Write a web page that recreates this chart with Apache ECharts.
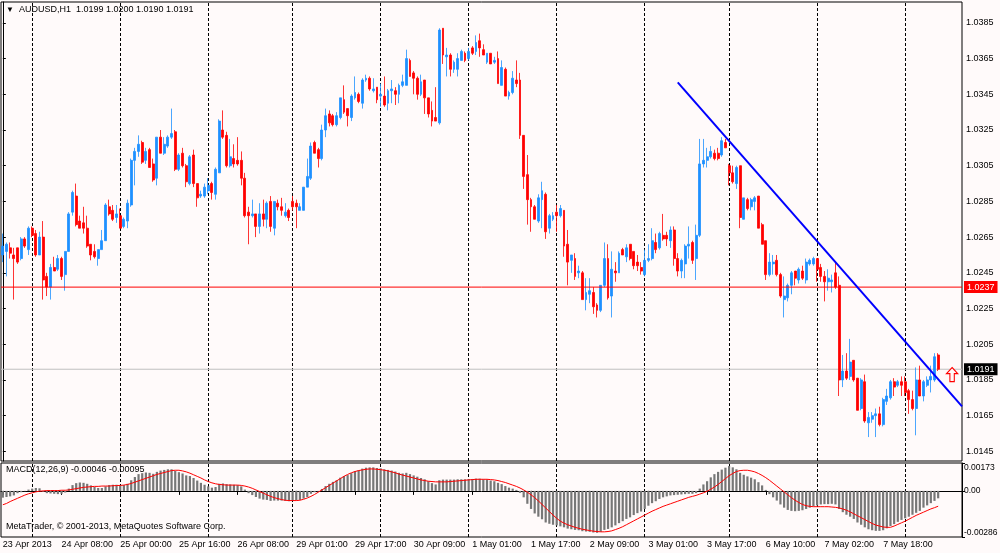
<!DOCTYPE html>
<html>
<head>
<meta charset="utf-8">
<title>AUDUSD,H1</title>
<script src="https://cdn.jsdelivr.net/npm/echarts@6/dist/echarts.min.js"></script>
<style>
  html, body { margin: 0; padding: 0; background: #fffafa; }
  #chart { width: 1000px; height: 553px; }
</style>
</head>
<body>
<div id="chart"></div>
<script>
// trading sessions of the H1 bars: day, first hour, last hour
var YEAR = 2013;
var sessions = [
  ['23 Apr', 16, 23], ['24 Apr', 0, 23], ['25 Apr', 0, 23], ['26 Apr', 0, 22],
  ['29 Apr', 0, 23], ['30 Apr', 0, 23], ['1 May', 0, 23], ['2 May', 0, 23],
  ['3 May', 0, 22], ['6 May', 0, 23], ['7 May', 0, 23], ['8 May', 0, 9]
];

// candles: [open, high, low, close]
var candles = [
  [1.0255,1.0267,1.0251,1.0260],[1.0257,1.0262,1.0243,1.0261],[1.0259,1.0262,1.0253,1.0256],[1.0255,1.0259,1.0230,1.0253],
  [1.0259,1.0259,1.0250,1.0251],[1.0253,1.0265,1.0252,1.0264],[1.0264,1.0265,1.0259,1.0260],[1.0258,1.0271,1.0255,1.0270],
  [1.0270,1.0271,1.0265,1.0266],[1.0267,1.0269,1.0254,1.0255],[1.0255,1.0268,1.0255,1.0265],[1.0265,1.0274,1.0230,1.0241],
  [1.0243,1.0245,1.0232,1.0237],[1.0237,1.0250,1.0230,1.0248],[1.0248,1.0254,1.0246,1.0246],[1.0247,1.0255,1.0246,1.0253],
  [1.0253,1.0254,1.0241,1.0243],[1.0244,1.0257,1.0235,1.0257],[1.0257,1.0279,1.0257,1.0278],[1.0279,1.0291,1.0277,1.0290],
  [1.0288,1.0295,1.0271,1.0272],[1.0274,1.0277,1.0270,1.0270],[1.0273,1.0282,1.0267,1.0270],[1.0270,1.0277,1.0259,1.0260],
  [1.0261,1.0261,1.0252,1.0255],[1.0257,1.0261,1.0253,1.0254],[1.0253,1.0258,1.0249,1.0258],[1.0258,1.0269,1.0258,1.0263],
  [1.0263,1.0284,1.0263,1.0283],[1.0282,1.0286,1.0277,1.0278],[1.0280,1.0283,1.0274,1.0275],[1.0276,1.0283,1.0273,1.0278],
  [1.0277,1.0281,1.0270,1.0270],[1.0271,1.0276,1.0270,1.0275],[1.0274,1.0286,1.0270,1.0284],[1.0283,1.0309,1.0282,1.0308],
  [1.0308,1.0315,1.0294,1.0313],[1.0313,1.0322,1.0310,1.0317],[1.0318,1.0319,1.0306,1.0307],[1.0308,1.0315,1.0306,1.0313],
  [1.0314,1.0315,1.0304,1.0304],[1.0306,1.0309,1.0296,1.0297],[1.0298,1.0321,1.0294,1.0321],[1.0321,1.0325,1.0312,1.0312],
  [1.0312,1.0321,1.0311,1.0317],[1.0316,1.0322,1.0315,1.0321],[1.0321,1.0337,1.0320,1.0323],[1.0324,1.0325,1.0302,1.0303],
  [1.0303,1.0312,1.0302,1.0311],[1.0312,1.0315,1.0304,1.0305],[1.0305,1.0306,1.0293,1.0296],[1.0295,1.0311,1.0294,1.0310],
  [1.0311,1.0314,1.0293,1.0295],[1.0295,1.0295,1.0282,1.0287],[1.0288,1.0291,1.0287,1.0289],[1.0288,1.0295,1.0287,1.0293],
  [1.0291,1.0298,1.0289,1.0294],[1.0295,1.0296,1.0286,1.0290],[1.0289,1.0304,1.0286,1.0303],[1.0301,1.0331,1.0301,1.0330],
  [1.0325,1.0336,1.0320,1.0321],[1.0322,1.0324,1.0304,1.0305],[1.0305,1.0320,1.0304,1.0310],[1.0309,1.0317,1.0304,1.0306],
  [1.0308,1.0321,1.0305,1.0306],[1.0308,1.0313,1.0294,1.0298],[1.0298,1.0301,1.0276,1.0277],[1.0279,1.0282,1.0261,1.0277],
  [1.0277,1.0286,1.0276,1.0278],[1.0278,1.0278,1.0265,1.0271],[1.0271,1.0284,1.0267,1.0278],[1.0278,1.0286,1.0271,1.0275],
  [1.0275,1.0285,1.0270,1.0284],[1.0285,1.0288,1.0268,1.0271],[1.0270,1.0285,1.0266,1.0285],[1.0284,1.0286,1.0280,1.0282],
  [1.0282,1.0287,1.0277,1.0280],[1.0277,1.0284,1.0276,1.0279],[1.0280,1.0281,1.0274,1.0276],[1.0285,1.0288,1.0280,1.0282],
  [1.0284,1.0286,1.0270,1.0282],[1.0280,1.0284,1.0280,1.0282],[1.0280,1.0293,1.0280,1.0293],[1.0293,1.0309,1.0293,1.0299],
  [1.0298,1.0318,1.0297,1.0316],[1.0318,1.0319,1.0312,1.0312],[1.0314,1.0315,1.0304,1.0309],[1.0309,1.0328,1.0308,1.0325],
  [1.0325,1.0337,1.0321,1.0333],[1.0334,1.0336,1.0327,1.0329],[1.0333,1.0334,1.0327,1.0328],[1.0328,1.0335,1.0327,1.0333],
  [1.0332,1.0343,1.0331,1.0343],[1.0342,1.0350,1.0334,1.0335],[1.0337,1.0337,1.0327,1.0333],[1.0332,1.0345,1.0330,1.0344],
  [1.0343,1.0355,1.0342,1.0346],[1.0345,1.0346,1.0340,1.0341],[1.0340,1.0354,1.0337,1.0353],[1.0353,1.0356,1.0352,1.0354],
  [1.0354,1.0355,1.0347,1.0348],[1.0347,1.0354,1.0346,1.0348],[1.0349,1.0349,1.0340,1.0342],[1.0344,1.0351,1.0338,1.0345],
  [1.0344,1.0355,1.0338,1.0339],[1.0340,1.0348,1.0336,1.0347],[1.0347,1.0353,1.0340,1.0348],[1.0347,1.0349,1.0339,1.0345],
  [1.0345,1.0351,1.0340,1.0350],[1.0350,1.0356,1.0349,1.0352],[1.0350,1.0370,1.0350,1.0365],[1.0364,1.0365,1.0355,1.0355],
  [1.0357,1.0358,1.0345,1.0354],[1.0354,1.0355,1.0342,1.0345],[1.0345,1.0356,1.0344,1.0352],[1.0353,1.0353,1.0334,1.0343],
  [1.0343,1.0343,1.0332,1.0334],[1.0336,1.0341,1.0327,1.0330],[1.0332,1.0349,1.0330,1.0330],[1.0329,1.0382,1.0328,1.0381],
  [1.0382,1.0382,1.0362,1.0367],[1.0366,1.0371,1.0355,1.0367],[1.0367,1.0368,1.0355,1.0359],[1.0359,1.0364,1.0357,1.0363],
  [1.0359,1.0368,1.0355,1.0365],[1.0364,1.0370,1.0364,1.0369],[1.0368,1.0369,1.0363,1.0364],[1.0365,1.0371,1.0364,1.0369],
  [1.0371,1.0372,1.0367,1.0368],[1.0369,1.0378,1.0367,1.0374],[1.0375,1.0379,1.0366,1.0371],[1.0370,1.0373,1.0367,1.0367],
  [1.0363,1.0368,1.0362,1.0368],[1.0368,1.0368,1.0362,1.0362],[1.0363,1.0366,1.0362,1.0364],[1.0365,1.0369,1.0351,1.0351],
  [1.0350,1.0364,1.0350,1.0360],[1.0359,1.0360,1.0344,1.0344],[1.0344,1.0347,1.0342,1.0346],[1.0346,1.0358,1.0345,1.0354],
  [1.0353,1.0364,1.0349,1.0351],[1.0353,1.0357,1.0320,1.0322],[1.0322,1.0322,1.0292,1.0299],[1.0300,1.0311,1.0272,1.0286],
  [1.0286,1.0287,1.0268,1.0282],[1.0282,1.0283,1.0275,1.0275],[1.0274,1.0289,1.0273,1.0287],[1.0286,1.0296,1.0270,1.0291],
  [1.0289,1.0290,1.0264,1.0268],[1.0270,1.0278,1.0267,1.0277],[1.0275,1.0279,1.0274,1.0277],[1.0279,1.0283,1.0268,1.0277],
  [1.0277,1.0283,1.0276,1.0281],[1.0280,1.0280,1.0254,1.0260],[1.0261,1.0269,1.0238,1.0251],[1.0252,1.0255,1.0245,1.0255],
  [1.0253,1.0256,1.0241,1.0243],[1.0245,1.0249,1.0242,1.0246],[1.0245,1.0246,1.0230,1.0230],[1.0230,1.0242,1.0224,1.0234],
  [1.0233,1.0242,1.0228,1.0235],[1.0234,1.0237,1.0222,1.0226],[1.0227,1.0228,1.0220,1.0224],[1.0224,1.0238,1.0223,1.0238],
  [1.0238,1.0262,1.0237,1.0253],[1.0253,1.0261,1.0230,1.0231],[1.0232,1.0257,1.0220,1.0247],[1.0246,1.0251,1.0240,1.0245],
  [1.0245,1.0257,1.0245,1.0256],[1.0258,1.0259,1.0255,1.0255],[1.0254,1.0261,1.0251,1.0259],[1.0261,1.0261,1.0252,1.0253],
  [1.0257,1.0257,1.0247,1.0249],[1.0251,1.0255,1.0246,1.0249],[1.0248,1.0251,1.0244,1.0246],[1.0244,1.0258,1.0243,1.0252],
  [1.0252,1.0261,1.0251,1.0253],[1.0253,1.0270,1.0252,1.0263],[1.0262,1.0267,1.0256,1.0258],[1.0259,1.0268,1.0258,1.0267],
  [1.0266,1.0278,1.0263,1.0264],[1.0266,1.0268,1.0260,1.0264],[1.0263,1.0271,1.0259,1.0269],[1.0269,1.0271,1.0249,1.0253],
  [1.0253,1.0256,1.0243,1.0246],[1.0246,1.0253,1.0242,1.0252],[1.0250,1.0261,1.0242,1.0260],[1.0260,1.0271,1.0253,1.0261],
  [1.0262,1.0263,1.0250,1.0252],[1.0253,1.0272,1.0241,1.0266],[1.0266,1.0320,1.0265,1.0306],[1.0306,1.0320,1.0304,1.0308],
  [1.0308,1.0315,1.0304,1.0310],[1.0310,1.0316,1.0309,1.0313],[1.0312,1.0314,1.0308,1.0309],[1.0312,1.0315,1.0308,1.0309],
  [1.0311,1.0321,1.0310,1.0319],[1.0318,1.0320,1.0315,1.0315],[1.0305,1.0306,1.0294,1.0301],[1.0301,1.0305,1.0295,1.0296],
  [1.0295,1.0305,1.0292,1.0304],[1.0305,1.0305,1.0270,1.0276],[1.0275,1.0287,1.0275,1.0287],[1.0286,1.0287,1.0280,1.0281],
  [1.0282,1.0287,1.0280,1.0286],[1.0285,1.0288,1.0280,1.0287],[1.0288,1.0288,1.0270,1.0270],[1.0272,1.0273,1.0261,1.0261],
  [1.0263,1.0263,1.0241,1.0244],[1.0244,1.0256,1.0243,1.0251],[1.0250,1.0255,1.0244,1.0251],[1.0252,1.0255,1.0243,1.0244],
  [1.0244,1.0245,1.0231,1.0232],[1.0230,1.0243,1.0220,1.0232],[1.0231,1.0239,1.0229,1.0238],[1.0238,1.0246,1.0233,1.0245],
  [1.0246,1.0246,1.0238,1.0242],[1.0241,1.0248,1.0239,1.0247],[1.0246,1.0249,1.0241,1.0242],[1.0241,1.0253,1.0239,1.0251],
  [1.0250,1.0253,1.0249,1.0252],[1.0250,1.0254,1.0249,1.0253],[1.0253,1.0253,1.0240,1.0247],[1.0248,1.0250,1.0240,1.0243],
  [1.0243,1.0246,1.0229,1.0240],[1.0240,1.0247,1.0235,1.0242],[1.0240,1.0244,1.0234,1.0241],[1.0245,1.0251,1.0236,1.0237],
  [1.0238,1.0243,1.0176,1.0185],[1.0185,1.0199,1.0181,1.0190],[1.0190,1.0200,1.0185,1.0186],[1.0187,1.0208,1.0185,1.0195],
  [1.0196,1.0196,1.0184,1.0185],[1.0186,1.0186,1.0168,1.0168],[1.0169,1.0186,1.0168,1.0185],[1.0184,1.0188,1.0161,1.0162],
  [1.0161,1.0167,1.0153,1.0164],[1.0163,1.0167,1.0161,1.0165],[1.0165,1.0169,1.0153,1.0166],[1.0166,1.0170,1.0159,1.0160],
  [1.0160,1.0175,1.0159,1.0174],[1.0173,1.0180,1.0171,1.0176],[1.0175,1.0185,1.0174,1.0184],[1.0184,1.0186,1.0176,1.0181],
  [1.0182,1.0185,1.0181,1.0184],[1.0184,1.0187,1.0176,1.0182],[1.0184,1.0187,1.0176,1.0178],[1.0179,1.0180,1.0166,1.0174],
  [1.0174,1.0179,1.0168,1.0169],[1.0169,1.0192,1.0154,1.0185],[1.0185,1.0193,1.0176,1.0176],[1.0176,1.0185,1.0173,1.0184],
  [1.0182,1.0187,1.0181,1.0185],[1.0185,1.0193,1.0178,1.0187],[1.0185,1.0200,1.0184,1.0198],[1.0199,1.0200,1.0190,1.0191]
];

// MACD(12,26,9) main (histogram) and signal, in points of 0.00001
var POINT = 0.00001;
var macdMain = [
  -42,-38,-34,-28,-14,-8,-2,8,14,18, 16,-6,-14,-16,-18,-20,-18,-10,14,36,
  48,52,50,44,34,24,18,18,28,36, 38,38,36,36,44,66,86,104,110,114,
  112,106,118,126,130,134,134,124,116,108, 96,92,80,64,50,38,28,20,24,44,
  46,42,40,38,36,28,8,-14,-26,-38, -48,-54,-56,-62,-60,-60,-60,-62,-64,-60,
  -58,-56,-48,-38,-18,-8,-4,12,30,44, 56,66,82,92,98,110,122,128,138,144,
  146,146,142,140,134,130,126,120,112,108, 112,104,96,88,80,72,60,48,40,66,
  70,70,70,70,72,72,72,74,74,76, 76,72,70,64,60,50,42,30,20,14,
  6,-12,-40,-80,-112,-140,-160,-176,-196,-204, -210,-214,-220,-226,-234,-238,-242,-244,-250,-252,
  -254,-258,-260,-254,-242,-236,-226,-214,-200,-188, -174,-164,-150,-138,-128,-112,-92,-76,-64,-50,
  -40,-34,-28,-26,-24,-22,-20,-18,-18,-14, 14,40,60,84,104,118,132,144,154,146,
  134,112,100,90,82,72,54,34,6,-20, -40,-60,-84,-104,-118,-124,-126,-124,-120,-112,
  -104,-96,-90,-84,-82,-82,-80,-84,-112,-132, -148,-160,-174,-196,-210,-226,-238,-244,-248,-248,
  -244,-232,-218,-206,-192,-180,-170,-160,-148,-136, -124,-104,-90,-76,-62,-46
];
var macdSignal = [
  -86,-78,-66,-56,-46,-36,-26,-18,-12,-6, -2,0,2,2,2,2,4,4,6,10,
  14,18,22,24,26,28,28,30,30,30, 32,33,34,36,40,46,54,62,70,78,
  86,94,102,108,114,120,126,128,128,124, 118,110,100,90,80,68,58,50,44,40,
  38,36,36,36,36,34,30,24,16,6, -4,-14,-24,-34,-42,-48,-54,-58,-60,-60,
  -60,-58,-52,-44,-34,-22,-8,6,20,34, 48,62,76,90,102,112,120,126,130,134,
  136,136,134,132,128,124,118,112,104,98, 92,86,80,74,68,64,60,58,56,56,
  56,56,58,60,62,64,66,68,70,72, 72,72,72,70,68,64,58,52,44,36,
  28,18,6,-8,-24,-42,-62,-84,-106,-128, -150,-170,-188,-200,-210,-218,-226,-232,-238,-242,
  -246,-250,-252,-254,-254,-252,-248,-240,-232,-222, -210,-198,-186,-174,-162,-150,-138,-126,-116,-106,
  -96,-88,-80,-72,-64,-56,-48,-40,-34,-28, -20,-12,-2,10,24,40,58,76,94,108,
  120,126,128,128,124,118,108,96,82,66, 48,30,12,-6,-24,-42,-58,-72,-84,-92,
  -96,-98,-98,-98,-98,-98,-100,-102,-106,-112, -120,-130,-142,-154,-166,-178,-190,-202,-212,-218,
  -224,-226,-226,-218,-208,-198,-188,-176,-164,-152, -142,-132,-122,-112,-104,-95
];

var priceRange = [1.01396, 1.03967];
var priceTicks = [1.0145, 1.0165, 1.0185, 1.0205, 1.0225, 1.0245, 1.0265, 1.0285, 1.0305, 1.0325, 1.0345, 1.0365, 1.0385];
var macdRange = [-0.00286, 0.00173];
var macdTicks = [-0.00286, 0, 0.00173];
var levelPrice = 1.0237;
// trend line anchors [bar index, price], drawn as a ray to the right
var trendAnchors = [[184, 1.03517], [246, 1.02065]];
var arrowMark = [258.8, 1.0188];
var SHIFT_BARS = 6;

var FONT = '"Liberation Sans", Arial, sans-serif';

// category names from the sessions
var times = [];
var dayStarts = [];
sessions.forEach(function (s, d) {
  for (var h = s[1]; h <= s[2]; h++) {
    if (h === 0 && d > 0) dayStarts.push(times.length);
    times.push(s[0] + ' ' + (h < 10 ? '0' : '') + h + ':00');
  }
});
var cats = times.slice();
for (var i = 0; i < SHIFT_BARS; i++) cats.push('+' + i);

var xMin = -0.5, xMax = cats.length - 0.5;
var a1 = trendAnchors[0], a2 = trendAnchors[1];
var slope = (a2[1] - a1[1]) / (a2[0] - a1[0]);
var trendData = [a1, [xMax, a1[1] + slope * (xMax - a1[0])]];

var last = candles[candles.length - 1];
var bidPrice = last[3];

function showTime(index) {
  return index % 16 === 0 && index < times.length;
}

function dayLines() {
  return {
    silent: true,
    z: 1,
    symbol: ['none', 'none'],
    label: { show: false },
    lineStyle: { color: '#000', width: 1, type: [3, 2] },
    data: dayStarts.map(function (i) { return { xAxis: i }; })
  };
}

// horizontal price line across the pane, with its price box on the right scale
function priceLine(value, lineColor, boxColor, z) {
  return {
    type: 'line', xAxisIndex: 2, yAxisIndex: 0, z: z, silent: true,
    data: [[xMin, value], [xMax, value]],
    showSymbol: false,
    lineStyle: { color: lineColor, width: 1 },
    endLabel: {
      show: true, distance: 2, padding: [2, 3, 1, 3],
      color: '#fff', backgroundColor: boxColor, fontSize: 9, fontFamily: FONT,
      formatter: function () { return value.toFixed(4); }
    }
  };
}

var txt = { fontSize: 9, fontWeight: 'normal', color: '#000', fontFamily: FONT };

var chart = echarts.init(document.getElementById('chart'));
chart.setOption({
  animation: false,
  backgroundColor: '#fffafa',
  title: [
    {
      left: 6, top: 5, padding: 0,
      text: '{t|▼}  AUDUSD,H1  ' + last.map(function (v) { return v.toFixed(4); }).join(' '),
      textStyle: Object.assign({}, txt, { rich: { t: { fontSize: 8, color: '#000' } } })
    },
    {
      left: 6, top: 465, padding: 0,
      text: 'MACD(12,26,9) ' + (macdMain[macdMain.length - 1] * POINT).toFixed(5) + ' ' +
        (macdSignal[macdSignal.length - 1] * POINT).toFixed(5),
      textStyle: txt
    },
    {
      left: 6, top: 522, padding: 0,
      text: 'MetaTrader, © 2001-2013, MetaQuotes Software Corp.',
      textStyle: txt
    }
  ],
  grid: [
    { left: 1, right: 38, top: 2, height: 459, show: true, borderColor: '#000', borderWidth: 1, outerBoundsMode: 'none' },
    { left: 1, right: 38, top: 463, height: 74, show: true, borderColor: '#000', borderWidth: 1, outerBoundsMode: 'none' }
  ],
  xAxis: [
    {
      type: 'category', gridIndex: 0, data: cats,
      axisLine: { show: false }, axisTick: { show: false }, axisLabel: { show: false }, splitLine: { show: false }
    },
    {
      type: 'category', gridIndex: 1, data: cats,
      axisLine: { show: true, lineStyle: { color: '#000' } },
      axisTick: { show: true, interval: showTime, alignWithLabel: true, length: 4, lineStyle: { color: '#000' } },
      axisLabel: {
        interval: showTime, align: 'left', margin: 3,
        fontSize: 9, color: '#000', fontFamily: FONT,
        formatter: function (v) { return v === times[0] ? sessions[0][0] + ' ' + YEAR : v; }
      },
      splitLine: { show: false }
    },
    { type: 'value', gridIndex: 0, min: xMin, max: xMax, show: false }
  ],
  yAxis: [
    {
      type: 'value', gridIndex: 0, position: 'right',
      min: priceRange[0], max: priceRange[1],
      splitLine: { show: false },
      axisLine: { show: true, lineStyle: { color: '#000' } },
      axisTick: { show: true, length: 3, customValues: priceTicks, lineStyle: { color: '#000' } },
      axisLabel: {
        customValues: priceTicks, margin: 4,
        fontSize: 9, color: '#000', fontFamily: FONT,
        formatter: function (v) { return v.toFixed(4); }
      }
    },
    {
      type: 'value', gridIndex: 1, position: 'right',
      min: macdRange[0], max: macdRange[1],
      splitLine: { show: false },
      axisLine: { show: true, lineStyle: { color: '#000' } },
      axisTick: { show: true, length: 3, customValues: macdTicks, lineStyle: { color: '#000' } },
      axisLabel: {
        customValues: macdTicks, margin: 2,
        fontSize: 8.5, color: '#000', fontFamily: FONT,
        verticalAlignMinLabel: 'bottom', verticalAlignMaxLabel: 'top',
        formatter: function (v) { return v === 0 ? '0.00' : v.toFixed(5); }
      }
    }
  ],
  series: [
    priceLine(bidPrice, '#c0c0c0', '#000', 1),
    {
      type: 'candlestick', xAxisIndex: 0, yAxisIndex: 0, z: 2, silent: true,
      barWidth: 2.4,
      data: candles.map(function (c) { return [c[0], c[3], c[2], c[1]]; }),
      itemStyle: {
        color: '#1e90ff', color0: '#ff0000',
        borderColor: '#1e90ff', borderColor0: '#ff0000', borderWidth: 0.8
      },
      markLine: dayLines()
    },
    priceLine(levelPrice, '#ff0000', '#ff0000', 3),
    {
      type: 'line', xAxisIndex: 2, yAxisIndex: 0, z: 4, silent: true,
      data: trendData, showSymbol: false,
      lineStyle: { color: '#0000ff', width: 2 }
    },
    {
      type: 'scatter', xAxisIndex: 2, yAxisIndex: 0, z: 5, silent: true,
      data: [arrowMark],
      symbol: 'path://M5,0 L10,6 L7,6 L7,14 L3,14 L3,6 L0,6 Z',
      symbolSize: [11, 14],
      itemStyle: { color: '#fffafa', borderColor: '#ff0000', borderWidth: 1.2, opacity: 1 }
    },
    {
      type: 'bar', xAxisIndex: 1, yAxisIndex: 1, z: 2, silent: true,
      barWidth: 2.2,
      data: macdMain.map(function (v) { return v * POINT; }),
      itemStyle: { color: '#777777' },
      markLine: dayLines()
    },
    {
      type: 'line', xAxisIndex: 1, yAxisIndex: 1, z: 3, silent: true,
      data: macdSignal.map(function (v) { return v * POINT; }),
      showSymbol: false,
      lineStyle: { color: '#ff0000', width: 1 }
    }
  ]
});
</script>
</body>
</html>
